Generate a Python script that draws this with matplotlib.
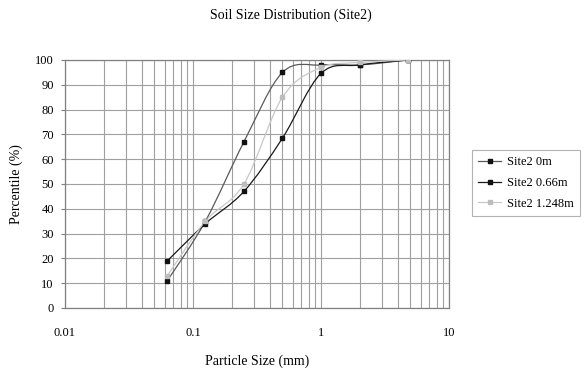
import numpy as np
import matplotlib.pyplot as plt
from matplotlib.path import Path
from matplotlib.patches import PathPatch
from matplotlib.ticker import LogLocator, FixedLocator, NullFormatter

plt.rcParams['font.family'] = ['Liberation Serif', 'DejaVu Serif']

# sieve sizes (mm) and percent passing
sizes = [0.063, 0.125, 0.25, 0.5, 1.0, 2.0, 4.75]
site2_0m = [11, 35, 67, 95, 98, 98, 100]
site2_066m = [19, 34, 47, 68.5, 94.6, 98, 100]
site2_1248m = [13, 35, 50, 85, 97, 99, 100]

labels = ['Site2 0m', 'Site2 0.66m', 'Site2 1.248m']
series = [site2_0m, site2_066m, site2_1248m]
line_colors = ['#5a5a5a', '#1a1a1a', '#c8c8c8']
marker_colors = ['#111111', '#111111', '#bdbdbd']
marker_sizes = [3.5, 3.5, 3]


def smooth_path(xs, ys, k=1/6):
    # cardinal spline through the points, built in log-x space
    lx = np.log10(xs)
    y = np.asarray(ys, dtype=float)
    n = len(lx)
    verts = [(xs[0], y[0])]
    codes = [Path.MOVETO]
    for i in range(n - 1):
        p0 = (lx[max(i - 1, 0)], y[max(i - 1, 0)])
        p1 = (lx[i], y[i])
        p2 = (lx[i + 1], y[i + 1])
        p3 = (lx[min(i + 2, n - 1)], y[min(i + 2, n - 1)])
        c1 = (p1[0] + (p2[0] - p0[0]) * k, p1[1] + (p2[1] - p0[1]) * k)
        c2 = (p2[0] - (p3[0] - p1[0]) * k, p2[1] - (p3[1] - p1[1]) * k)
        for c in (c1, c2, p2):
            verts.append((10 ** c[0], c[1]))
            codes.append(Path.CURVE4)
    return Path(verts, codes)


fig = plt.figure(figsize=(5.88, 3.74), dpi=100)
ax = fig.add_axes([65 / 588, 1 - 308 / 374, 384 / 588, 248 / 374])

ax.set_xscale('log')
ax.set_xlim(0.01, 10)
ax.set_ylim(0, 100)

for ys, lab, lc, mc, ms in zip(series, labels, line_colors, marker_colors,
                               marker_sizes):
    ax.add_patch(PathPatch(smooth_path(sizes, ys), facecolor='none',
                           edgecolor=lc, lw=0.9, zorder=3))
    ax.plot(sizes, ys, linestyle='none', marker='s', markersize=ms,
            color=mc, zorder=4)
    # legend proxy
    ax.plot([], [], color=lc, lw=0.9, marker='s', markersize=ms,
            markerfacecolor=mc, markeredgecolor=mc, label=lab)

ax.xaxis.set_major_locator(FixedLocator([0.01, 0.1, 1, 10]))
ax.set_xticklabels(['0.01', '0.1', '1', '10'])
ax.xaxis.set_minor_locator(LogLocator(base=10, subs=np.arange(2, 10)))
ax.xaxis.set_minor_formatter(NullFormatter())
ax.set_yticks(np.arange(0, 101, 10))

ax.grid(True, which='both', color='#a0a0a0', lw=0.8)
ax.set_axisbelow(True)
for s in ax.spines.values():
    s.set_color('#808080')
    s.set_linewidth(0.9)

ax.tick_params(axis='x', which='both', length=0, pad=14, labelsize=9)
ax.tick_params(axis='y', length=3, color='#808080', pad=5, labelsize=9)

ax.set_xlabel('Particle Size (mm)', fontsize=10, labelpad=11)
ax.set_ylabel('Percentile (%)', fontsize=10, labelpad=9)
fig.text(291 / 588, 1 - 15 / 374, 'Soil Size Distribution (Site2)',
         ha='center', va='center', fontsize=10)

leg = fig.legend(loc='upper left', bbox_to_anchor=(472 / 588, 1 - 150 / 374),
                 fontsize=9, frameon=True, fancybox=False,
                 edgecolor='#a0a0a0', handlelength=1.8, borderpad=0.5,
                 labelspacing=0.7, handletextpad=0.5, borderaxespad=0)
leg.get_frame().set_linewidth(0.8)

fig.savefig('out.png', dpi=100)
